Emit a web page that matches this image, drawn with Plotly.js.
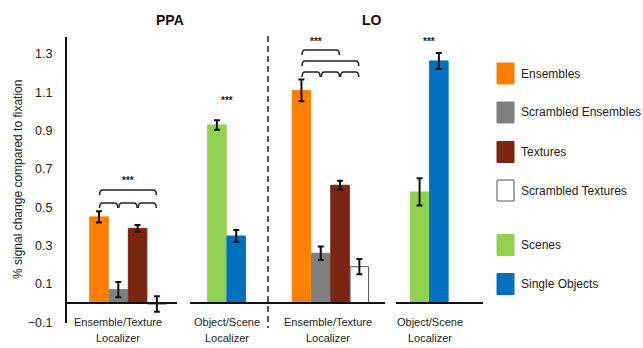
<!DOCTYPE html>
<html>
<head>
<meta charset="utf-8">
<script src="https://cdn.plot.ly/plotly-3.0.1.min.js"></script>
<style>
html,body{margin:0;padding:0;background:#fff;}
#chart{width:643px;height:348px;}
</style>
</head>
<body>
<div id="chart"></div>
<script>
// ---------------- DATA ----------------
const regions = ['PPA', 'LO'];
const localizerLabels = [['Ensemble/Texture', 'Localizer'], ['Object/Scene', 'Localizer']];

const etSeries = ['Ensembles', 'Scrambled Ensembles', 'Textures', 'Scrambled Textures'];
const etPPA = [0.45, 0.07, 0.39, -0.005];
const etPPAerr = [0.029, 0.04, 0.018, 0.04];
const etLO = [1.11, 0.26, 0.615, 0.19];
const etLOerr = [0.057, 0.035, 0.023, 0.04];

const osSeries = ['Scenes', 'Single Objects'];
const osPPA = [0.93, 0.35];
const osPPAerr = [0.025, 0.031];
const osLO = [0.58, 1.264];
const osLOerr = [0.071, 0.042];

const yTicks = [-0.1, 0.1, 0.3, 0.5, 0.7, 0.9, 1.1, 1.3];
const sigLabel = '***';

// ---------------- STYLE / LAYOUT ----------------
const colors = {
  'Ensembles': '#FF8000',
  'Scrambled Ensembles': '#808080',
  'Textures': '#7B2612',
  'Scrambled Textures': '#FFFFFF',
  'Scenes': '#92D050',
  'Single Objects': '#0070C0'
};
const FONT = 'Liberation Sans, Arial, sans-serif';
const L = 67, T = 37, PW = 423, PH = 286;
const W = 643, H = 348;
const X0 = -1.658, X1 = 20.26;
const Y0 = -0.104, Y1 = 1.389;
// group starts (x units): PPA-ET, PPA-OS, LO-ET, LO-OS
const gStart = [0, 6.11, 10.49, 16.61];
const barW = 0.96;

const px2paperX = p => (p - L) / PW;
const px2paperY = p => (T + PH - p) / PH;

const traces = [];
etSeries.forEach((s, i) => {
  traces.push({
    type: 'bar', name: s,
    x: [gStart[0] + i, gStart[2] + i],
    y: [etPPA[i], etLO[i]],
    width: barW,
    marker: {color: colors[s], line: {color: s === 'Scrambled Textures' ? '#555' : colors[s], width: 1}},
    error_y: {type: 'data', array: [etPPAerr[i], etLOerr[i]], color: '#111', thickness: 2, width: 3},
    showlegend: false, hoverinfo: 'skip'
  });
});
osSeries.forEach((s, i) => {
  traces.push({
    type: 'bar', name: s,
    x: [gStart[1] + i, gStart[3] + i],
    y: [osPPA[i], osLO[i]],
    width: barW,
    marker: {color: colors[s], line: {color: colors[s], width: 1}},
    error_y: {type: 'data', array: [osPPAerr[i], osLOerr[i]], color: '#111', thickness: 2, width: 3},
    showlegend: false, hoverinfo: 'skip'
  });
});

const shapes = [];
const annotations = [];

// broken baseline at y = 0
[[-1.66, 4.04], [4.72, 14.82], [15.39, 19.9]].forEach(seg => {
  shapes.push({type: 'line', xref: 'x', yref: 'y', x0: seg[0], x1: seg[1], y0: 0, y1: 0,
    line: {color: '#111', width: 2}});
});
// dashed divider
shapes.push({type: 'line', xref: 'x', yref: 'paper', x0: 8.756, x1: 8.756, y0: px2paperY(36), y1: px2paperY(328),
  line: {color: '#222', width: 1.5, dash: '6px,4px'}});

// brackets
function bracket(g, i, j, yv) {
  const xa = gStart[g] + i + 0.03, xb = gStart[g] + j - 0.03;
  const d = 0.026, r = 0.16;
  const path = `M ${xa},${yv - d} Q ${xa},${yv} ${xa + r},${yv} L ${xb - r},${yv} Q ${xb},${yv} ${xb},${yv - d}`;
  shapes.push({type: 'path', xref: 'x', yref: 'y', path: path, line: {color: '#222', width: 1.5}});
}
[[0,1],[1,2],[2,3]].forEach(p => bracket(0, p[0], p[1], 0.522));
bracket(0, 0, 3, 0.59);
[[0,1],[1,2],[2,3]].forEach(p => bracket(2, p[0], p[1], 1.206));
bracket(2, 0, 3, 1.264);
bracket(2, 0, 2, 1.321);

// significance stars
[[0, 1.5, 0.64], [1, 0.5, 1.055], [2, 0.75, 1.368], [3, 0.5, 1.368]].forEach(s => {
  annotations.push({xref: 'x', yref: 'y', x: gStart[s[0]] + s[1], y: s[2], text: '<b>' + sigLabel + '</b>',
    showarrow: false, font: {family: FONT, size: 10, color: '#222'}, xanchor: 'center', yanchor: 'middle'});
});

// category labels
const labelOff = [1.0, 0.5, 1.4, 0.55];
gStart.forEach((g, k) => {
  const lab = localizerLabels[k % 2];
  annotations.push({xref: 'x', yref: 'paper', x: g + labelOff[k], y: px2paperY(322), text: lab[0],
    showarrow: false, font: {family: FONT, size: 11, color: '#222'}, xanchor: 'center', yanchor: 'middle'});
  annotations.push({xref: 'x', yref: 'paper', x: g + labelOff[k], y: px2paperY(338), text: lab[1],
    showarrow: false, font: {family: FONT, size: 11, color: '#222'}, xanchor: 'center', yanchor: 'middle'});
});

// region titles
[[regions[0], 170], [regions[1], 372]].forEach(r => {
  annotations.push({xref: 'paper', yref: 'paper', x: px2paperX(r[1]), y: px2paperY(20), text: '<b>' + r[0] + '</b>',
    showarrow: false, font: {family: FONT, size: 14, color: '#111'}, xanchor: 'center', yanchor: 'middle'});
});

// y title
annotations.push({xref: 'paper', yref: 'paper', x: px2paperX(18), y: px2paperY(180), text: '% signal change compared to fixation',
  textangle: -90, showarrow: false, font: {family: FONT, size: 12, color: '#222'}, xanchor: 'center', yanchor: 'middle'});

// manual legend
const legendItems = etSeries.concat(osSeries);
const legendY = [73.5, 112.5, 152, 190.5, 245, 284];
legendItems.forEach((s, k) => {
  const cy = legendY[k];
  shapes.push({type: 'rect', xref: 'paper', yref: 'paper',
    x0: px2paperX(497), x1: px2paperX(514), y0: px2paperY(cy - 10.5), y1: px2paperY(cy + 10.5),
    fillcolor: colors[s], line: {color: s === 'Scrambled Textures' ? '#555' : colors[s], width: 1}});
  annotations.push({xref: 'paper', yref: 'paper', x: px2paperX(519), y: px2paperY(cy), text: s,
    showarrow: false, font: {family: FONT, size: 12, color: '#222'}, xanchor: 'left', yanchor: 'middle'});
});

const layout = {
  width: W, height: H,
  margin: {l: L, t: T, r: W - L - PW, b: H - T - PH, pad: 0},
  paper_bgcolor: '#fff', plot_bgcolor: 'rgba(0,0,0,0)',
  barmode: 'overlay',
  showlegend: false,
  font: {family: FONT, size: 12, color: '#222'},
  xaxis: {range: [X0, X1], visible: false, fixedrange: true},
  yaxis: {range: [Y0, Y1], tickvals: yTicks, tickformat: '.1f', showgrid: false, zeroline: false,
    showline: true, linecolor: '#111', linewidth: 2, ticks: '', ticklabelstandoff: 10,
    tickfont: {family: FONT, size: 12.5, color: '#222'}, fixedrange: true},
  shapes: shapes,
  annotations: annotations
};

Plotly.newPlot('chart', traces, layout, {displayModeBar: false, staticPlot: true});
</script>
</body>
</html>
